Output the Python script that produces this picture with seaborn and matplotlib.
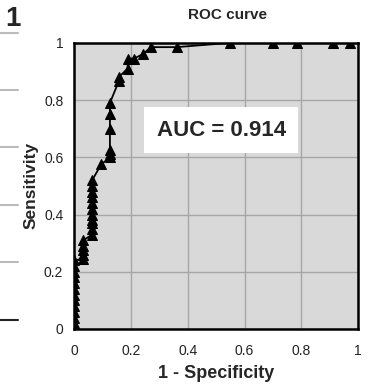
import matplotlib
matplotlib.use('Agg')
import matplotlib.pyplot as plt
import pandas as pd
import seaborn as sns
from matplotlib.lines import Line2D

# ROC points (1 - specificity, sensitivity)
fpr = [0, 0, 0, 0, 0, 0, 0, 0, 0, 0, 0, 0, 0,
       0.031, 0.031, 0.031, 0.031, 0.031,
       0.0625, 0.0625, 0.0625, 0.0625, 0.0625, 0.0625, 0.0625, 0.0625,
       0.0625, 0.0625, 0.0625,
       0.094,
       0.125, 0.125, 0.125, 0.125, 0.125, 0.125,
       0.156, 0.156,
       0.1875, 0.1875,
       0.21, 0.24, 0.27, 0.36,
       0.55, 0.70, 0.785, 0.91, 0.97]
tpr = [0, 0.02, 0.04, 0.06, 0.08, 0.10, 0.12, 0.14, 0.16, 0.18, 0.20, 0.22, 0.24,
       0.245, 0.26, 0.275, 0.29, 0.31,
       0.33, 0.35, 0.37, 0.38, 0.40, 0.42, 0.44, 0.46,
       0.48, 0.50, 0.52,
       0.575,
       0.60, 0.61, 0.625, 0.70, 0.75, 0.79,
       0.865, 0.88,
       0.91, 0.945,
       0.945, 0.96, 0.985, 0.985,
       1.0, 1.0, 1.0, 1.0, 1.0]
ticks = [0, 0.2, 0.4, 0.6, 0.8, 1]
tick_labels = ['0', '0.2', '0.4', '0.6', '0.8', '1']
auc_text = 'AUC = 0.914'

df = pd.DataFrame({'fpr': fpr, 'tpr': tpr})

sns.set_style('white')
plt.rcParams['font.family'] = ['Liberation Sans', 'DejaVu Sans']

fig = plt.figure(figsize=(3.68, 3.86), dpi=100)
ax = fig.add_axes([0.2024, 0.1477, 0.7705, 0.7413])
ax.set_facecolor('#d9d9d9')

sns.lineplot(data=df, x='fpr', y='tpr', ax=ax, sort=False, color='black',
             linewidth=1.3, marker='^', markersize=7.5, markeredgecolor='black',
             estimator=None)

ax.set_xlim(0, 1)
ax.set_ylim(0, 1)
ax.set_xticks(ticks)
ax.set_yticks(ticks)
ax.set_xticklabels(tick_labels, fontsize=10, color='#222222')
ax.set_yticklabels(tick_labels, fontsize=10, color='#222222')
ax.tick_params(axis='x', length=0, pad=11)
ax.tick_params(axis='y', length=0, pad=8)
ax.grid(True, color='#a6a6a6', linewidth=1)
ax.set_axisbelow(True)
for s in ax.spines.values():
    s.set_color('black')
    s.set_linewidth(1.8)

ax.set_title('ROC curve', fontsize=11, fontweight='bold', pad=17, x=0.54)
ax.set_xlabel('1 - Specificity', fontsize=13, fontweight='bold', labelpad=5)
ax.set_ylabel('Sensitivity', fontsize=12.5, fontweight='bold', labelpad=4)

ax.text(0.517, 0.695, auc_text, transform=ax.transAxes, fontsize=16,
        fontweight='bold', ha='center', va='center',
        bbox=dict(boxstyle='square,pad=0.55', facecolor='white', edgecolor='none'))

# bits of the neighbouring panel on the left edge
fig.text(0.015, 0.985, '1', fontsize=20, fontweight='bold', va='top', ha='left')
for ypx, col in [(33, '#bbbbbb'), (90, '#bbbbbb'), (147, '#bbbbbb'),
                 (205, '#bbbbbb'), (262, '#bbbbbb'), (320, '#222222')]:
    yf = 1 - ypx / 386
    fig.add_artist(Line2D([0, 18 / 368], [yf, yf], color=col, linewidth=1.5))

fig.savefig('out.png', dpi=100)
